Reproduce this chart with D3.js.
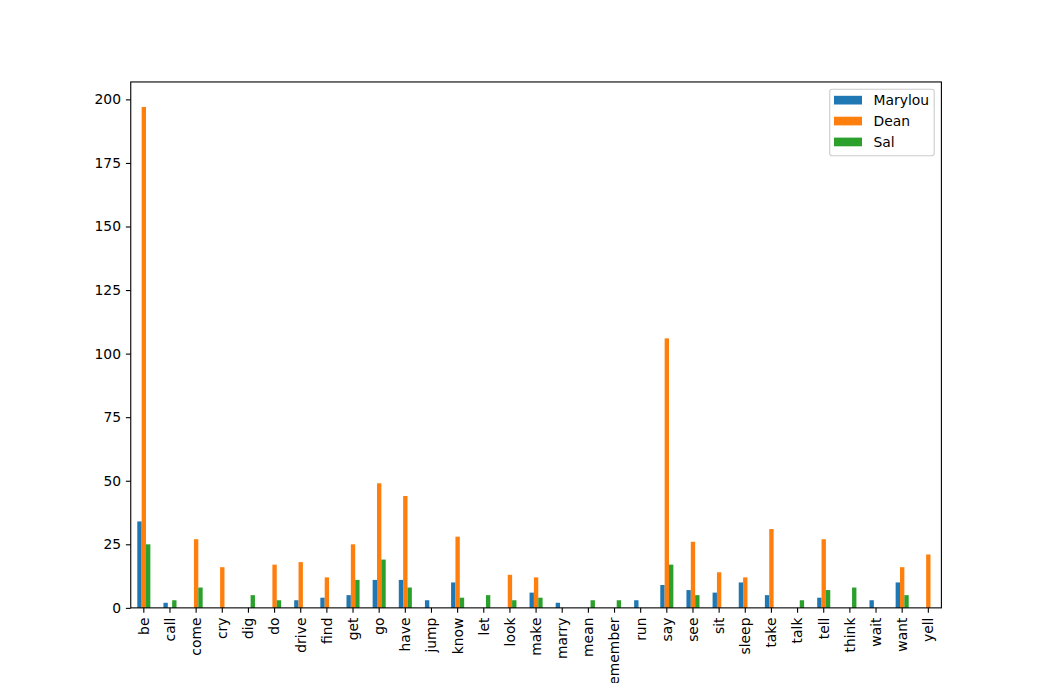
<!DOCTYPE html>
<html><head><meta charset="utf-8">
<script src="https://cdn.jsdelivr.net/npm/d3@7"></script>
<style>body{margin:0;background:#fff;} svg{display:block;}</style>
</head><body>
<svg id="c" width="1046" height="683"></svg>
<script>
const categories = ["be","call","come","cry","dig","do","drive","find","get","go","have","jump","know","let","look","make","marry","mean","remember","run","say","see","sit","sleep","take","talk","tell","think","wait","want","yell"];
const marylou = [34,2,0,0,0,0,3,4,5,11,11,3,10,0,0,6,2,0,0,3,9,7,6,10,5,0,4,0,3,10,0];
const dean    = [197,0,27,16,0,17,18,12,25,49,44,0,28,0,13,12,0,0,0,0,106,26,14,12,31,0,27,0,0,16,21];
const sal     = [25,3,8,0,5,3,0,0,11,19,8,0,4,5,3,4,0,3,3,0,17,5,0,0,0,3,7,8,0,5,0];
const seriesNames = ["Marylou","Dean","Sal"];
const colors = ["#1f77b4","#ff7f0e","#2ca02c"];
const yTicks = [0,25,50,75,100,125,150,175,200];
const seriesVals = [marylou, dean, sal];

const svg = d3.select("#c");
const L=130.75, R=941.4, T=81.96, B=607.87;
const font = "DejaVu Sans, sans-serif";
const fs = "13.89px";
const x = d3.scaleBand().domain(categories).range([L,R]).paddingInner(0).paddingOuter(0);
const maxV = d3.max(seriesVals.flat());
const y = d3.scaleLinear().domain([0, maxV*1.05]).range([B,T]);
const bw = x.bandwidth()*0.5/3;

seriesVals.forEach((vals,si)=>{
  svg.append("g").selectAll("rect").data(categories).enter().append("rect")
    .attr("x", (c)=> x(c)+x.bandwidth()/2 - 1.5*bw + si*bw)
    .attr("y", (c,i)=> y(vals[i]))
    .attr("width", bw)
    .attr("height", (c,i)=> B - y(vals[i]))
    .attr("fill", colors[si]);
});

const yAxis = svg.append("g").attr("transform",`translate(${L},0)`)
  .call(d3.axisLeft(y).tickValues(yTicks).tickSize(4.86).tickPadding(4.86).tickFormat(d3.format("d")));
const xAxis = svg.append("g").attr("transform",`translate(0,${B})`)
  .call(d3.axisBottom(x).tickSize(4.86).tickPadding(4.86));
[yAxis,xAxis].forEach(a=>{
  a.select(".domain").remove();
  a.selectAll("line").attr("stroke","#000").attr("stroke-width",1.1);
  a.selectAll("text").attr("font-family",font).attr("font-size",fs).attr("fill","#000");
});
xAxis.selectAll("text")
  .attr("transform","rotate(-90)")
  .attr("text-anchor","end")
  .attr("dy","0.35em")
  .attr("x",-9.7)
  .attr("y",0);

svg.append("rect").attr("x",L).attr("y",T).attr("width",R-L).attr("height",B-T)
  .attr("fill","none").attr("stroke","#000").attr("stroke-width",1.1);

// legend
const lg = svg.append("g");
lg.append("rect").attr("x",829.7).attr("y",89.3).attr("width",104.5).attr("height",66.5)
  .attr("fill","#fff").attr("fill-opacity",0.8).attr("stroke","#ccc").attr("stroke-width",1.1).attr("rx",2.5);
seriesNames.forEach((n,i)=>{
  const yy = 100.3 + i*20.9;
  lg.append("rect").attr("x",834).attr("y",yy-4.5).attr("width",28).attr("height",8.7).attr("fill",colors[i]);
  lg.append("text").attr("x",873.5).attr("y",yy).attr("dy","0.35em")
    .attr("font-family",font).attr("font-size",fs).text(n);
});
</script>
</body></html>
